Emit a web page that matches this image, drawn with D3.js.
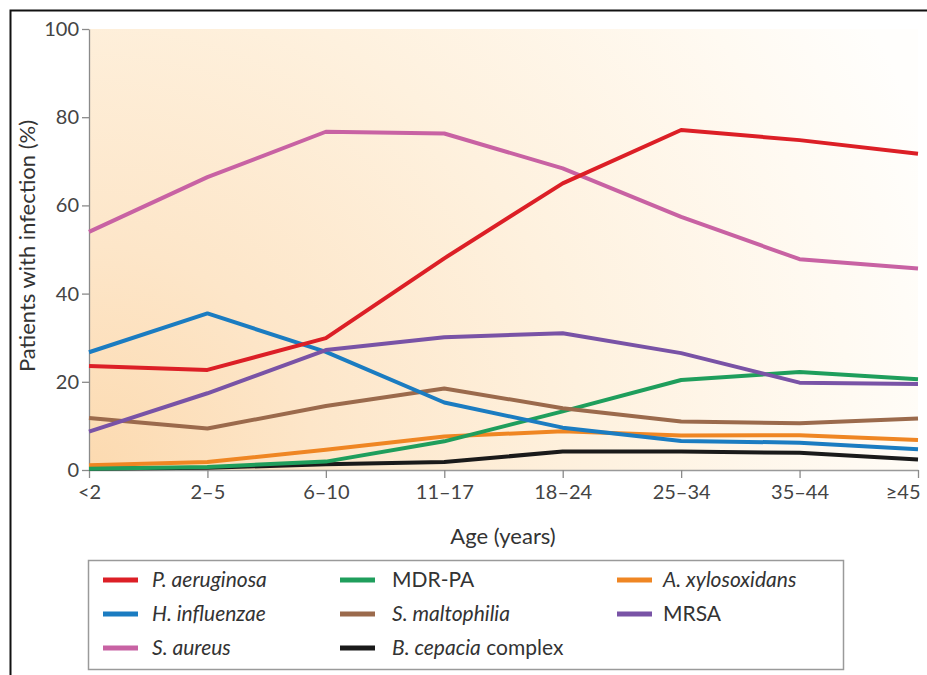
<!DOCTYPE html>
<html>
<head>
<meta charset="utf-8">
<script src="https://cdn.jsdelivr.net/npm/d3@7"></script>
<style>
  body { margin: 0; background: #fff; }
  svg { display: block; font-family: Lato, "Open Sans", sans-serif; }
</style>
</head>
<body>
<svg id="chart"></svg>
<script>
var width = 927;
var height = 675;

// age groups (x categories)
var ages = ["<2", "2\u20135", "6\u201310", "11\u201317", "18\u201324", "25\u201334", "35\u201344", "\u226545"];
var yTicks = [0, 20, 40, 60, 80, 100];

// % of patients with infection, per age group
var pAeruginosa   = [23.6, 22.7, 29.9, 48, 65, 77.1, 74.8, 71.7];
var mdrPA         = [0.3, 0.7, 1.9, 6.5, 13.3, 20.4, 22.2, 20.6];
var aXylosoxidans = [1.1, 1.8, 4.6, 7.6, 8.8, 7.8, 7.9, 6.8];
var hInfluenzae   = [26.7, 35.5, 26.8, 15.3, 9.6, 6.6, 6.2, 4.7];
var sMaltophilia  = [11.8, 9.4, 14.5, 18.5, 14, 11, 10.6, 11.7];
var mrsa          = [8.7, 17.4, 27.2, 30.1, 31, 26.5, 19.8, 19.5];
var sAureus       = [54, 66.4, 76.7, 76.3, 68.4, 57.4, 47.8, 45.7];
var bCepacia      = [0.3, 0.5, 1.3, 1.8, 4.2, 4.2, 3.9, 2.4];

// legend order (3 columns, row by row)
var series = [
	{id: "pa",   italic: "P. aeruginosa",   plain: "",         values: pAeruginosa,   color: "#dc1f26"},
	{id: "mdr",  italic: "",                plain: "MDR-PA",   values: mdrPA,         color: "#1f9e5c"},
	{id: "ax",   italic: "A. xylosoxidans", plain: "",         values: aXylosoxidans, color: "#ef8623"},
	{id: "hi",   italic: "H. influenzae",   plain: "",         values: hInfluenzae,   color: "#1b7cc1"},
	{id: "sm",   italic: "S. maltophilia",  plain: "",         values: sMaltophilia,  color: "#9b6a4c"},
	{id: "mrsa", italic: "",                plain: "MRSA",     values: mrsa,          color: "#7953a6"},
	{id: "sa",   italic: "S. aureus",       plain: "",         values: sAureus,       color: "#c862a3"},
	{id: "bc",   italic: "B. cepacia",      plain: " complex", values: bCepacia,      color: "#1a1a1a"}
];

// drawing order, bottom to top
var drawOrder = ["bc", "ax", "mdr", "sm", "hi", "mrsa", "sa", "pa"];

var plotLeft = 89, plotRight = 918, plotTop = 29, plotBottom = 470;

var x = d3.scalePoint()
.domain(ages)
.range([plotLeft, plotRight]);

var y = d3.scaleLinear()
.domain([0, 100])
.range([plotBottom, plotTop]);

var svg = d3.select("#chart")
.attr("width", width)
.attr("height", height);

// warm glow from the bottom-left corner fading out to the top-right
var defs = svg.append("defs");
var grad = defs.append("radialGradient")
.attr("id", "bg")
.attr("gradientUnits", "userSpaceOnUse")
.attr("cx", plotLeft)
.attr("cy", plotBottom)
.attr("r", 900);
grad.append("stop").attr("offset", 0).attr("stop-color", "#fcdab0");
grad.append("stop").attr("offset", 0.25).attr("stop-color", "#fde6c9");
grad.append("stop").attr("offset", 0.55).attr("stop-color", "#fef1de");
grad.append("stop").attr("offset", 0.85).attr("stop-color", "#fffaf2");
grad.append("stop").attr("offset", 1).attr("stop-color", "#fffefc");

// outer frame
svg.append("rect")
.attr("x", 10.5)
.attr("y", 10.5)
.attr("width", 940)
.attr("height", 700)
.style("fill", "none")
.style("stroke", "#111")
.style("stroke-width", 2);

// plot background
svg.append("rect")
.attr("x", plotLeft)
.attr("y", plotTop)
.attr("width", plotRight - plotLeft)
.attr("height", plotBottom - plotTop)
.style("fill", "url(#bg)");

// axes
var yAxis = svg.append("g")
.attr("transform", "translate(" + plotLeft + ",0)")
.call(d3.axisLeft(y).tickValues(yTicks).tickSize(7).tickSizeOuter(0).tickPadding(3));

var xAxis = svg.append("g")
.attr("transform", "translate(0," + plotBottom + ")")
.call(d3.axisBottom(x).tickSize(8).tickSizeOuter(0).tickPadding(7));

[yAxis, xAxis].forEach(function (g) {
	g.selectAll("path, line").style("stroke", "#8a8a8a").style("stroke-width", 1.3);
	g.selectAll("text")
	.style("font-family", "Lato, sans-serif")
	.style("font-size", "20px")
	.style("fill", "#444");
});
xAxis.selectAll("path").style("stroke", "#999");

// last label sits flush with the right end of the axis
xAxis.selectAll(".tick text")
.filter(function (d) { return d == ages[ages.length - 1]; })
.attr("text-anchor", "end")
.attr("dx", 2);

// axis titles
svg.append("text")
.attr("transform", "translate(35, 246) rotate(-90)")
.style("text-anchor", "middle")
.style("font-size", "22px")
.style("fill", "#333")
.text("Patients with infection (%)");

svg.append("text")
.attr("x", 503)
.attr("y", 544)
.style("text-anchor", "middle")
.style("font-size", "22px")
.style("fill", "#333")
.text("Age (years)");

// lines
var line = d3.line()
.x(function (d, i) { return x(ages[i]); })
.y(function (d) { return y(d); });

var lineGroup = svg.append("g");
drawOrder.forEach(function (id) {
	var s = series.find(function (d) { return d.id == id; });
	lineGroup.append("path")
	.attr("id", id + "_line")
	.attr("d", line(s.values))
	.style("fill", "none")
	.style("stroke", s.color)
	.style("stroke-width", 4)
	.style("stroke-linejoin", "round");
});

// legend
svg.append("rect")
.attr("x", 88.5)
.attr("y", 560.5)
.attr("width", 755)
.attr("height", 109)
.style("fill", "#fff")
.style("stroke", "#9a9a9a")
.style("stroke-width", 1.5);

var swatchX = [103, 340, 617];
var labelX = [152, 392, 663];
var rowY = [580, 614, 648];

series.forEach(function (s, i) {
	var col = i % 3;
	var cy = rowY[Math.floor(i / 3)];

	svg.append("line")
	.attr("x1", swatchX[col])
	.attr("x2", swatchX[col] + 35)
	.attr("y1", cy)
	.attr("y2", cy)
	.style("stroke", s.color)
	.style("stroke-width", 5);

	var t = svg.append("text")
	.attr("x", labelX[col])
	.attr("y", cy + 7)
	.style("font-size", "21px")
	.style("fill", "#333");

	if (s.italic)
		t.append("tspan").style("font-style", "italic").text(s.italic);
	if (s.plain)
		t.append("tspan").text(s.plain);
});
</script>
</body>
</html>
